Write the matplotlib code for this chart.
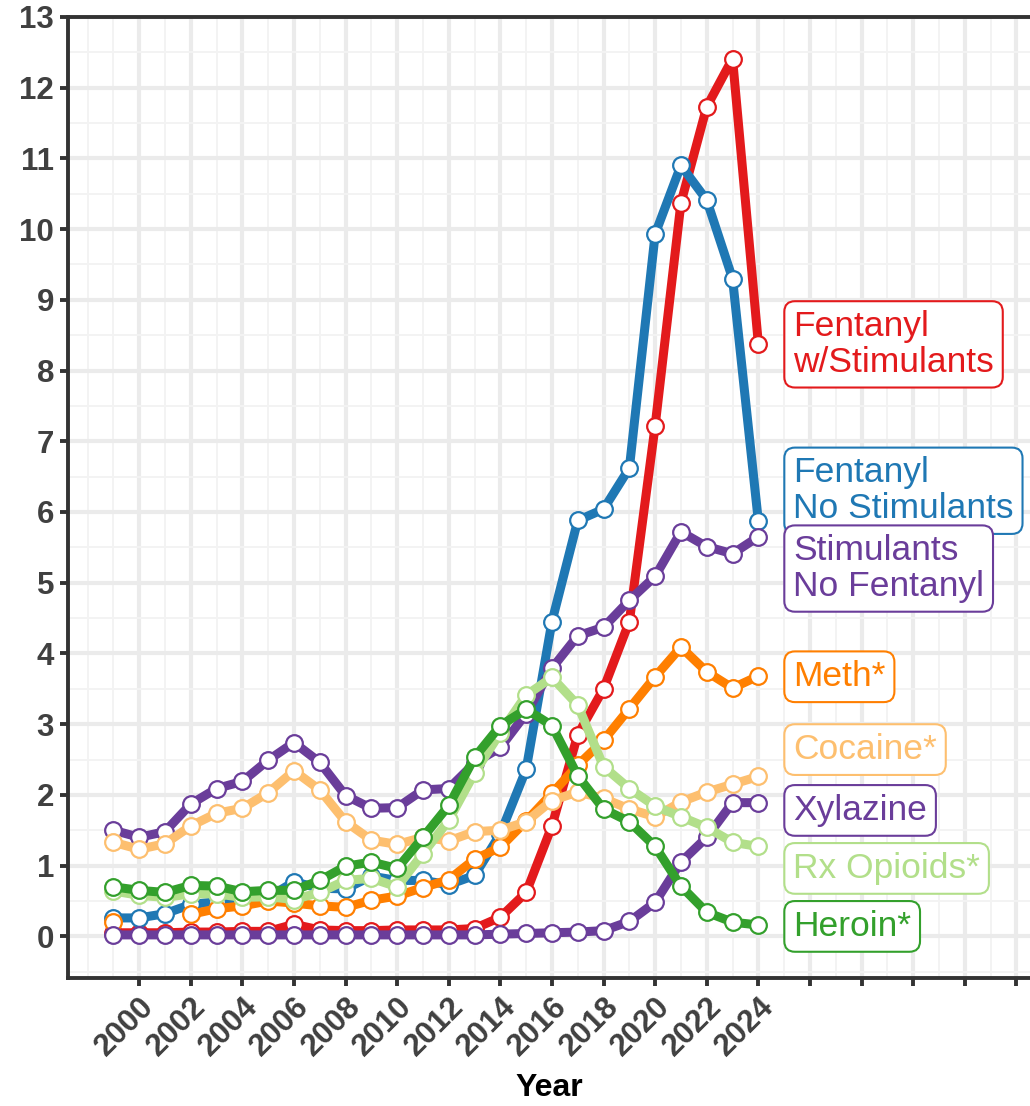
import numpy as np
import matplotlib
matplotlib.use('Agg')
import matplotlib.pyplot as plt
from matplotlib.ticker import MultipleLocator, FixedLocator, FuncFormatter

plt.rcParams['font.family'] = ['Liberation Sans', 'DejaVu Sans']

# Data (rate per year)
years = np.arange(1999, 2025)

fent_stim = [0.05, 0.05, 0.05, 0.06, 0.06, 0.07, 0.07, 0.17, 0.09, 0.08, 0.08, 0.09, 0.09,
             0.09, 0.11, 0.27, 0.62, 1.56, 2.85, 3.50, 4.45, 7.22, 10.37, 11.73, 12.41, 8.38]
fent_nostim = [0.26, 0.26, 0.32, 0.45, 0.49, 0.50, 0.55, 0.77, 0.68, 0.67, 0.85, 0.79, 0.79,
               0.73, 0.86, 1.45, 2.36, 4.45, 5.88, 6.04, 6.62, 9.93, 10.90, 10.41, 9.30, 5.87]
stim_nofent = [1.50, 1.40, 1.48, 1.87, 2.09, 2.19, 2.49, 2.74, 2.46, 1.99, 1.81, 1.82, 2.07,
               2.09, 2.45, 2.67, 3.15, 3.79, 4.25, 4.37, 4.75, 5.09, 5.72, 5.51, 5.41, 5.65]
meth = [0.20, np.nan, np.nan, 0.31, 0.39, 0.43, 0.50, 0.47, 0.43, 0.41, 0.51, 0.57, 0.69,
        0.80, 1.09, 1.26, 1.63, 2.02, 2.42, 2.77, 3.22, 3.67, 4.09, 3.74, 3.51, 3.68]
cocaine = [1.33, 1.23, 1.31, 1.56, 1.74, 1.81, 2.03, 2.34, 2.07, 1.62, 1.36, 1.30, 1.40,
           1.35, 1.48, 1.50, 1.62, 1.92, 2.04, 1.95, 1.80, 1.69, 1.90, 2.04, 2.15, 2.26]
xylazine = [0.02, 0.02, 0.02, 0.02, 0.02, 0.02, 0.02, 0.02, 0.02, 0.02, 0.02, 0.02, 0.02,
            0.02, 0.02, 0.03, 0.04, 0.05, 0.06, 0.08, 0.21, 0.48, 1.05, 1.40, 1.89, 1.89]
rx_opioids = [0.64, 0.58, 0.55, 0.60, 0.60, 0.55, 0.56, 0.52, 0.62, 0.79, 0.82, 0.70, 1.17,
              1.64, 2.31, 2.88, 3.41, 3.66, 3.27, 2.40, 2.09, 1.84, 1.69, 1.54, 1.33, 1.27]
heroin = [0.70, 0.65, 0.62, 0.72, 0.71, 0.63, 0.65, 0.65, 0.79, 0.99, 1.05, 0.96, 1.40,
          1.85, 2.53, 2.98, 3.21, 2.98, 2.27, 1.80, 1.62, 1.27, 0.71, 0.34, 0.20, 0.16]

labels = ['Fentanyl\nw/Stimulants', 'Fentanyl\nNo Stimulants', 'Stimulants\nNo Fentanyl',
          'Meth*', 'Cocaine*', 'Xylazine', 'Rx Opioids*', 'Heroin*']
series = [fent_stim, fent_nostim, stim_nofent, meth, cocaine, xylazine, rx_opioids, heroin]
colors = ['#E31A1C', '#1F78B4', '#6A3D9A', '#FF7F00', '#FDBF6F', '#6A3D9A', '#B2DF8A', '#33A02C']
# where the repelled label boxes sit
label_y = [8.37, 6.30, 5.20, 3.67, 2.64, 1.78, 0.96, 0.14]

fig = plt.figure(figsize=(10.30, 11.06), dpi=100)
ax = fig.add_axes([0.066, 0.1157, 0.934, 0.869])

for vals, c in zip(series, colors):
    ax.plot(years, vals, color=c, lw=6.5, marker='o', ms=12, mfc='white',
            mec=c, mew=1.6, solid_capstyle='round', solid_joinstyle='round')

for txt, y, c in zip(labels, label_y, colors):
    ax.text(2025.35, y, txt, color=c, fontsize=25.5, ha='left', va='center',
            linespacing=1.1, zorder=10,
            bbox=dict(boxstyle='round,pad=0.25,rounding_size=0.3', fc='white',
                      ec=c, lw=1.5))

ax.set_xlim(1997.24, 2034.53)
ax.set_ylim(-0.59, 13)

ax.xaxis.set_major_locator(FixedLocator(np.arange(2000, 2035, 2)))
ax.xaxis.set_minor_locator(MultipleLocator(1))
ax.xaxis.set_major_formatter(FuncFormatter(lambda v, p: f'{int(v)}' if v <= 2024 else ''))
ax.yaxis.set_major_locator(MultipleLocator(1))
ax.yaxis.set_minor_locator(MultipleLocator(0.5))

ax.grid(which='major', color='#EBEBEB', lw=3, zorder=0)
ax.grid(which='minor', color='#F3F3F3', lw=1.4, zorder=0)
ax.set_axisbelow(True)

ax.tick_params(which='major', length=6, width=2.8, color='#333333',
               labelsize=22.5, labelcolor='#404040', pad=4)
ax.tick_params(which='minor', length=0)
for lab in ax.get_xticklabels() + ax.get_yticklabels():
    lab.set_fontweight('bold')
for lab in ax.get_xticklabels():
    lab.set_rotation(45)
    lab.set_ha('right')
    lab.set_va('top')
    lab.set_rotation_mode('anchor')

for side in ['left', 'bottom', 'top']:
    ax.spines[side].set_color('#333333')
    ax.spines[side].set_linewidth(2.8)
ax.spines['right'].set_visible(False)

ax.set_xlabel('Year', fontsize=23, fontweight='bold', labelpad=8)

fig.savefig('out.png', dpi=100)
